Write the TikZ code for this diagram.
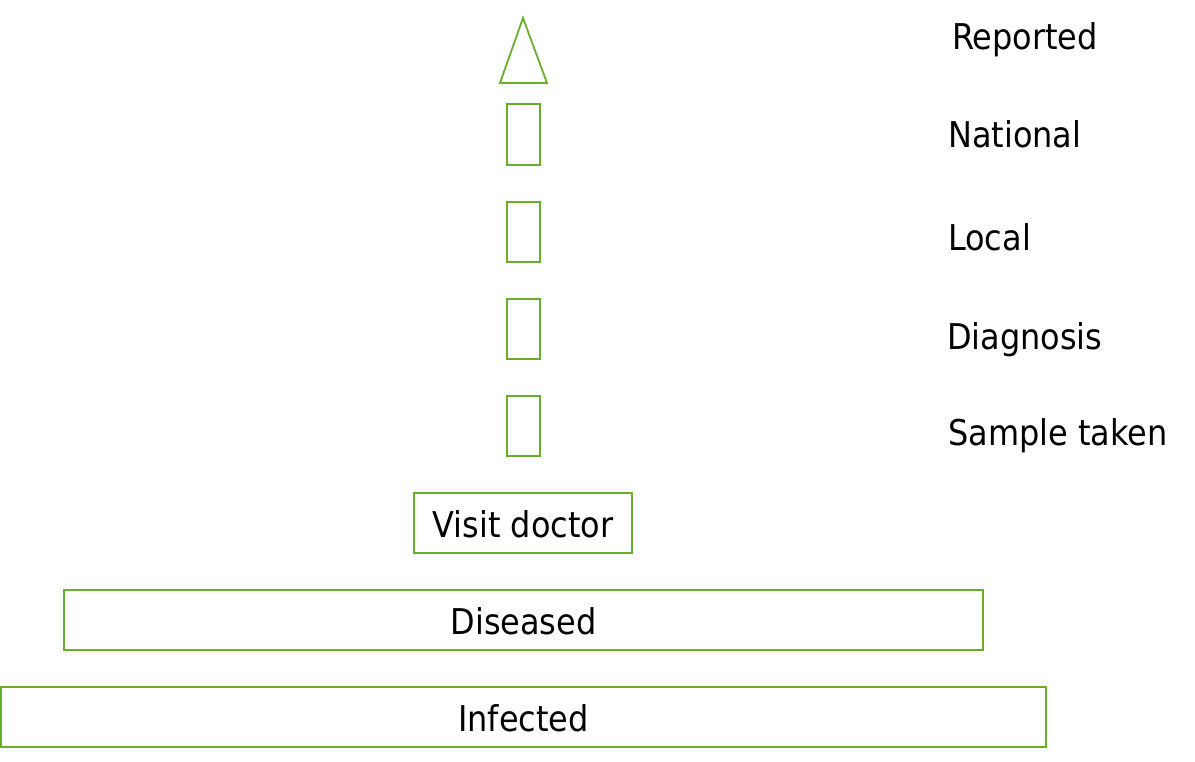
\documentclass[tikz,border=0pt]{standalone}
\usepackage{fontspec}
\setmainfont{DejaVu Sans Condensed}
\definecolor{grn}{HTML}{6AAC2C}
\begin{document}
\begin{tikzpicture}[x=1pt,y=-1pt,
  box/.style={draw=grn,line width=1.8pt,fill=none},
  lbl/.style={anchor=west,inner sep=0pt,font=\fontsize{35.5}{40}\selectfont},
  ctr/.style={inner sep=0pt,font=\fontsize{35.5}{40}\selectfont}]
\useasboundingbox (0,0) rectangle (1195,762);
\draw[box] (523,18) -- (547,83) -- (500,83) -- cycle;
\node[box,minimum width=33pt,minimum height=61pt,inner sep=0pt] (r1) at (523.5,134.5) {};
\node[box,minimum width=33pt,minimum height=60pt,inner sep=0pt] (r2) at (523.5,232) {};
\node[box,minimum width=33pt,minimum height=60pt,inner sep=0pt] (r3) at (523.5,329) {};
\node[box,minimum width=33pt,minimum height=60pt,inner sep=0pt] (r4) at (523.5,426) {};
\node[box,minimum width=218pt,minimum height=60pt,inner sep=0pt] (vd) at (523,523) {};
\node[ctr] (vdt) at (523,524) {Visit doctor};
\node[box,minimum width=919pt,minimum height=60pt,inner sep=0pt] (ds) at (523.5,620) {};
\node[ctr] (dst) at (523.5,621) {Diseased};
\node[box,minimum width=1045pt,minimum height=60pt,inner sep=0pt] (inf) at (523.5,717) {};
\node[ctr] (inft) at (523.5,718) {Infected};
\node[lbl] (t1) at (952,40) {Reported};
\node[lbl] (t2) at (948,134) {National};
\node[lbl] (t3) at (948,237) {Local};
\node[lbl] (t4) at (947,340) {Diagnosis};
\node[lbl] (t5) at (948,436) {Sample taken};
\end{tikzpicture}
\end{document}
